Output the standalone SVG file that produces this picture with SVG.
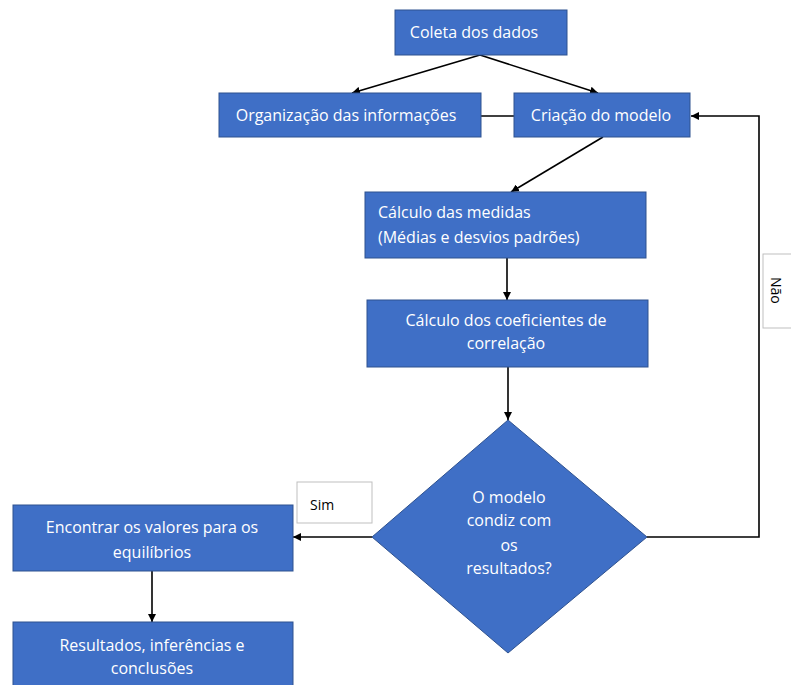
<svg xmlns="http://www.w3.org/2000/svg" width="791" height="685" viewBox="0 0 791 685">
<style>
.box{fill:#3F6FC6;stroke:#2F528F;stroke-width:1}
.t{font-family:"Open Sans","Liberation Sans",sans-serif;font-size:16px;fill:#ffffff}
.c{text-anchor:middle}
.lbl{fill:#ffffff;stroke:#bfbfbf;stroke-width:1}
.lt{font-family:"Open Sans","Liberation Sans",sans-serif;font-size:14px;fill:#000000}
.con{fill:none;stroke:#000000;stroke-width:1.6}
</style>
<defs>
<marker id="ah" viewBox="0 0 10 10" refX="10" refY="5" markerWidth="5" markerHeight="5" orient="auto" markerUnits="strokeWidth">
<path d="M0,0 L10,5 L0,10 z" fill="#000000"/>
</marker>
</defs>
<rect width="791" height="685" fill="#ffffff"/>
<g id="connectors">
<line class="con" x1="480" y1="55" x2="352" y2="93" marker-end="url(#ah)"/>
<line class="con" x1="480" y1="55" x2="598" y2="93" marker-end="url(#ah)"/>
<line class="con" x1="481" y1="116" x2="514" y2="116"/>
<line class="con" x1="603" y1="137" x2="511" y2="192" marker-end="url(#ah)"/>
<line class="con" x1="507" y1="258" x2="507" y2="300" marker-end="url(#ah)"/>
<line class="con" x1="508" y1="367" x2="508" y2="420" marker-end="url(#ah)"/>
<line class="con" x1="372" y1="537" x2="293" y2="537" marker-end="url(#ah)"/>
<polyline class="con" points="647,537 759,537 759,116 691,116" marker-end="url(#ah)"/>
<line class="con" x1="152" y1="571" x2="152" y2="622" marker-end="url(#ah)"/>
</g>
<g id="n-coleta">
<rect class="box" x="395" y="10" width="172" height="45"/>
<text class="t" x="474" y="38" text-anchor="middle">Coleta dos dados</text>
</g>
<g id="n-organizacao">
<rect class="box" x="219" y="93" width="262" height="44"/>
<text class="t c" x="346" y="121">Organização das informações</text>
</g>
<g id="n-criacao">
<rect class="box" x="514" y="93" width="176" height="44"/>
<text class="t c" x="601" y="121">Criação do modelo</text>
</g>
<g id="n-medidas">
<rect class="box" x="365" y="192" width="281" height="66"/>
<text class="t" x="378" y="218">Cálculo das medidas</text>
<text class="t" x="378" y="243">(Médias e desvios padrões)</text>
</g>
<g id="n-coeficientes">
<rect class="box" x="367" y="300" width="281" height="67"/>
<text class="t c" x="506" y="326">Cálculo dos coeficientes de</text>
<text class="t c" x="506" y="349">correlação</text>
</g>
<g id="n-decisao">
<polygon class="box" points="508,420 647,537 508,653 372,537"/>
<text class="t c" x="509" y="503">O modelo</text>
<text class="t c" x="509" y="526">condiz com</text>
<text class="t c" x="509" y="551">os</text>
<text class="t c" x="509" y="574">resultados?</text>
</g>
<g id="n-encontrar">
<rect class="box" x="13" y="505" width="280" height="66"/>
<text class="t c" x="152" y="533">Encontrar os valores para os</text>
<text class="t c" x="152" y="558">equilíbrios</text>
</g>
<g id="n-resultados">
<rect class="box" x="13" y="622" width="280" height="70"/>
<text class="t c" x="152" y="651">Resultados, inferências e</text>
<text class="t c" x="152" y="674">conclusões</text>
</g>
<g id="l-sim">
<rect class="lbl" x="297" y="482" width="75" height="41"/>
<text class="lt" x="310" y="510">Sim</text>
</g>
<g id="l-nao">
<rect class="lbl" x="763" y="254" width="32" height="74"/>
<text class="lt" x="0" y="0" transform="translate(771,277) rotate(90)">Não</text>
</g>
</svg>
